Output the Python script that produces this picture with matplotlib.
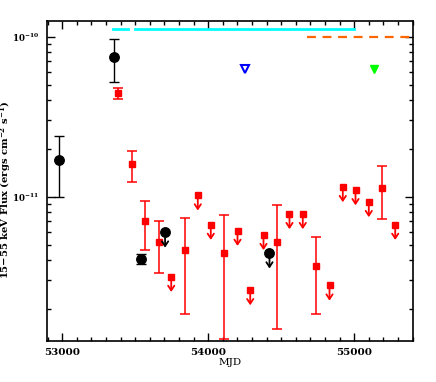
import numpy as np
import matplotlib
matplotlib.use('Agg')
import matplotlib.pyplot as plt
from matplotlib.ticker import FixedLocator, LogLocator, NullFormatter, MultipleLocator

plt.rc('font', family='DejaVu Serif', weight='bold', size=7.5)
plt.rc('mathtext', fontset='custom', rm='DejaVu Serif:bold', default='rm')

# --- datos ---
# puntos negros con barras de error
bk_mjd = [52977, 53358, 53541]
bk_flux = [1.69e-11, 7.43e-11, 4.08e-12]
bk_lo = [1.00e-11, 5.20e-11, 3.80e-12]
bk_hi = [2.40e-11, 9.60e-11, 4.40e-12]

# límites superiores negros
bk_ul_mjd = [53705, 54420]
bk_ul_flux = [5.98e-12, 4.43e-12]

# cuadrados rojos con barras de error
rd_mjd = [53381, 53479, 53568, 53660, 53838, 54110, 54470, 54740, 55192]
rd_flux = [4.46e-11, 1.59e-11, 7.08e-12, 5.21e-12, 4.67e-12, 4.47e-12, 5.19e-12, 3.70e-12, 1.13e-11]
rd_lo = [4.10e-11, 1.23e-11, 4.65e-12, 3.35e-12, 1.85e-12, 1.30e-12, 1.49e-12, 1.86e-12, 7.28e-12]
rd_hi = [4.80e-11, 1.93e-11, 9.44e-12, 7.05e-12, 7.40e-12, 7.66e-12, 8.90e-12, 5.57e-12, 1.56e-11]

# límites superiores rojos
rd_ul_mjd = [53747, 53929, 54018, 54201, 54288, 54379, 54557, 54648, 54831, 54922, 55009, 55100, 55281]
rd_ul_flux = [3.16e-12, 1.02e-11, 6.68e-12, 6.13e-12, 2.61e-12, 5.77e-12, 7.80e-12, 7.80e-12,
              2.79e-12, 1.15e-11, 1.10e-11, 9.27e-12, 6.68e-12]

# triángulos
blue_mjd, blue_flux = [54249], [6.25e-11]
green_mjd, green_flux = [55139], [6.25e-11]

# líneas horizontales
cyan_segs = [(53351, 53450), (53502, 55000)]
cyan_flux = 1.122e-10
orange_seg = (54680, 55450)
orange_flux = 1.0e-10

# --- gráfico ---
fig = plt.figure(figsize=(4.36, 3.82), dpi=100)
ax = fig.add_axes([0.108, 0.108, 0.839, 0.838])

def flechas(x, y, color):
    for xi, yi in zip(x, y):
        ax.annotate('', xy=(xi, yi * 10**-0.095), xytext=(xi, yi),
                    arrowprops=dict(arrowstyle='->,head_length=0.45,head_width=0.3',
                                    color=color, lw=1.3, shrinkA=0, shrinkB=0))

bk_flux = np.array(bk_flux)
ax.errorbar(bk_mjd, bk_flux, yerr=[bk_flux - np.array(bk_lo), np.array(bk_hi) - bk_flux],
            fmt='o', color='black', ms=6.8, capsize=3.3, elinewidth=1.0, capthick=1.0)
flechas(bk_ul_mjd, bk_ul_flux, 'black')
ax.plot(bk_ul_mjd, bk_ul_flux, 'o', color='black', ms=6.8)

rd_flux = np.array(rd_flux)
ax.errorbar(rd_mjd, rd_flux, yerr=[rd_flux - np.array(rd_lo), np.array(rd_hi) - rd_flux],
            fmt='s', color='red', ms=4.5, capsize=3.3, elinewidth=1.1, capthick=1.1)
flechas(rd_ul_mjd, rd_ul_flux, 'red')
ax.plot(rd_ul_mjd, rd_ul_flux, 's', color='red', ms=4.5)

ax.plot(blue_mjd, blue_flux, 'v', mfc='white', mec='blue', mew=1.5, ms=6)
ax.plot(green_mjd, green_flux, 'v', color='#00ff00', ms=6)

for a, b in cyan_segs:
    ax.plot([a, b], [cyan_flux, cyan_flux], color='cyan', lw=2)
ax.plot(orange_seg, [orange_flux, orange_flux], '--', color='#ff6600', lw=1.6, dashes=(4, 3))

ax.set_yscale('log')
ax.set_xlim(52897, 55402)
ax.set_ylim(1.259e-12, 1.259e-10)

ax.xaxis.set_major_locator(FixedLocator([53000, 54000, 55000]))
ax.xaxis.set_minor_locator(MultipleLocator(100))
ax.yaxis.set_major_locator(FixedLocator([1e-11, 1e-10]))
ax.yaxis.set_minor_locator(LogLocator(base=10, subs=np.arange(2, 10)))
ax.yaxis.set_minor_formatter(NullFormatter())
ax.set_yticklabels([r'$10^{-11}$', r'$10^{-10}$'])

ax.tick_params(which='both', direction='in', top=True, right=True, width=1.0)
ax.tick_params(which='major', length=6, pad=5)
ax.tick_params(which='minor', length=3)
ax.tick_params(axis='y', which='major', labelsize=6.2, pad=6)
for s in ax.spines.values():
    s.set_linewidth(1.2)

ax.set_xlabel('MJD', labelpad=1)
ax.set_ylabel(r'15$-$55 keV Flux (ergs cm$^{-2}$ s$^{-1}$)', fontsize=7.2, fontweight='bold')
ax.yaxis.set_label_coords(-0.092, 0.47)

fig.savefig('out.png', dpi=100)
